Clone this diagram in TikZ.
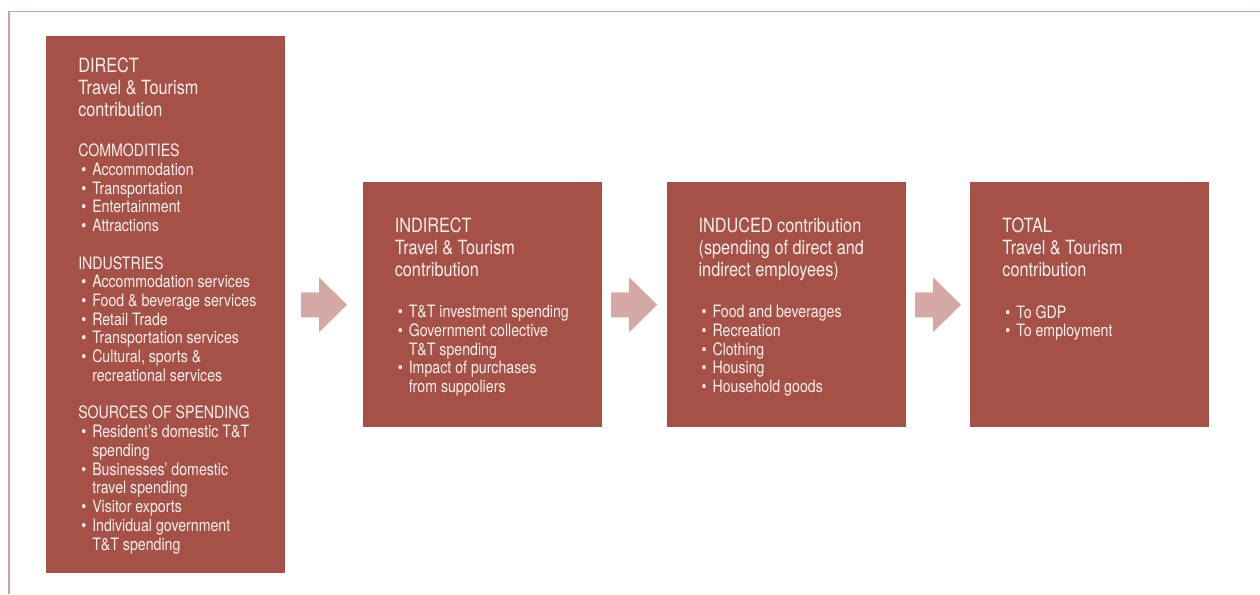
\documentclass[tikz,border=0pt]{standalone}
\usepackage{fontspec}
\setmainfont{TeX Gyre Heros}[FakeStretch=0.83]
\usetikzlibrary{positioning,calc}
\definecolor{boxred}{HTML}{A65147}
\definecolor{arrowpink}{HTML}{D4A9A5}
\definecolor{framepink}{HTML}{C9A2A2}
\definecolor{textwhite}{HTML}{F8F0EE}
\newcommand\titlefont{\fontsize{14.7}{16.5}\selectfont}
\newcommand\bodyfont{\fontsize{12.8}{14.06}\selectfont}
\newcommand\bul{\hspace*{2.25pt}\makebox[8.25pt][l]{\textbullet}}
\newcommand\cont{\hspace*{10.5pt}}
\begin{document}
\begin{tikzpicture}[
        x=0.75pt, y=-0.75pt,
        blok/.style={fill=boxred, minimum width=179.25pt, inner sep=0pt},
        tall/.style={blok, minimum height=402.75pt},
        short/.style={blok, minimum height=183.75pt},
        heading/.style={anchor=north west, inner sep=0pt, align=left, text=textwhite, font=\titlefont},
        items/.style={anchor=north west, inner sep=0pt, align=left, text=textwhite, font=\bodyfont},
        flow/.style={fill=arrowpink},
    ]
    \useasboundingbox (0,0) rectangle (1260,594);
    % frame
    \draw[framepink, line width=1.1pt] (9,594) -- (9,11.5) -- (1260,11.5);
    % boxes
    \node[tall, anchor=north west] (direct) at (46,36) {};
    \node[short, right=57.75pt of direct] (indirect) {};
    \node[short, right=48.2pt of indirect] (induced) {};
    \node[short, right=48.2pt of induced] (total) {};
    % texts
    \node[heading] (directT) at ($(direct.north west)+(32,21.5)$)
        {DIRECT\\Travel \& Tourism\\contribution};
    \node[items] (directL) at ($(direct.north west)+(32,107.5)$)
        {COMMODITIES\\
        \bul Accommodation\\
        \bul Transportation\\
        \bul Entertainment\\
        \bul Attractions\\[14.06pt]
        INDUSTRIES\\
        \bul Accommodation services\\
        \bul Food \& beverage services\\
        \bul Retail Trade\\
        \bul Transportation services\\
        \bul Cultural, sports \&\\
        \cont recreational services\\[14.06pt]
        SOURCES OF SPENDING\\
        \bul Resident’s domestic T\&T\\
        \cont spending\\
        \bul Businesses’ domestic\\
        \cont travel spending\\
        \bul Visitor exports\\
        \bul Individual government\\
        \cont T\&T spending};
    \node[heading] (indirectT) at ($(indirect.north west)+(32,35.5)$)
        {INDIRECT\\Travel \& Tourism\\contribution};
    \node[items] (indirectL) at ($(indirect.north west)+(32,123)$)
        {\bul T\&T investment spending\\
        \bul Government collective\\
        \cont T\&T spending\\
        \bul Impact of purchases\\
        \cont from suppoliers};
    \node[heading] (inducedT) at ($(induced.north west)+(32,35.5)$)
        {INDUCED contribution\\(spending of direct and\\indirect employees)};
    \node[items] (inducedL) at ($(induced.north west)+(32,123)$)
        {\bul Food and beverages\\
        \bul Recreation\\
        \bul Clothing\\
        \bul Housing\\
        \bul Household goods};
    \node[heading] (totalT) at ($(total.north west)+(32,35.5)$)
        {TOTAL\\Travel \& Tourism\\contribution};
    \node[items] (totalL) at ($(total.north west)+(32,123)$)
        {\bul To GDP\\
        \bul To employment};
    % block arrows
    \foreach \a/\b in {direct/indirect, indirect/induced, induced/total}
        \fill[flow] ($(\a.east |- \b.west)!0.5!(\b.west)$) ++(-23,-12.5) -- ++(18,0)
            -- ++(0,-15) -- ++(28,27.5) -- ++(-28,27.5) -- ++(0,-15) -- ++(-18,0) -- cycle;
\end{tikzpicture}
\end{document}
